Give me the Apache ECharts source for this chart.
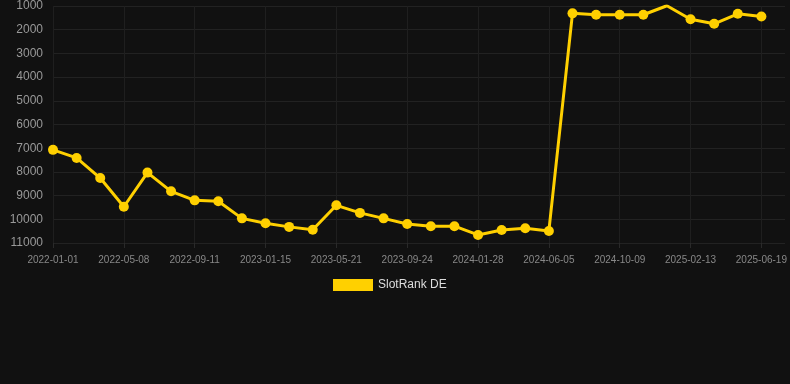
<!DOCTYPE html>
<html>
<head>
<meta charset="utf-8">
<script src="https://cdn.jsdelivr.net/npm/echarts@6/dist/echarts.min.js"></script>
<style>html,body{margin:0;padding:0;background:#111111;}#c{width:790px;height:384px;}</style>
</head>
<body>
<div id="c"></div>
<script>
var categories = ["2022-01-01","2022-02-12","2022-03-26","2022-05-08","2022-06-19","2022-07-31","2022-09-11","2022-10-23","2022-12-04","2023-01-15","2023-02-26","2023-04-09","2023-05-21","2023-07-02","2023-08-13","2023-09-24","2023-11-05","2023-12-17","2024-01-28","2024-03-10","2024-04-22","2024-06-05","2024-07-17","2024-08-28","2024-10-09","2024-11-20","2025-01-01","2025-02-13","2025-03-27","2025-05-08","2025-06-19",""];
var rankDE = [7070,7410,8260,9470,8030,8820,9200,9240,9960,10170,10320,10440,9410,9730,9960,10200,10290,10290,10660,10450,10380,10490,1310,1370,1370,1370,990,1560,1750,1330,1440];
var yTicks = {min:1000, max:11000, interval:1000};

var chart = echarts.init(document.getElementById('c'));
chart.setOption({
  backgroundColor:'#111111',
  animation:false,
  grid:{left:53, right:5, top:6, bottom:141, containLabel:false},
  legend:{
    data:['SlotRank DE'], top:274, left:328,
    itemWidth:40, itemHeight:12, icon:'rect',
    textStyle:{color:'#dddddd', fontSize:12, fontFamily:'Liberation Sans, Arial, sans-serif'}
  },
  xAxis:{
    type:'category', data:categories, boundaryGap:false,
    axisLine:{show:false},
    axisTick:{show:true, interval:2, length:5, lineStyle:{color:'#2a2a2a'}},
    axisLabel:{interval:2, color:'#888888', fontSize:10, margin:12, fontFamily:'Liberation Sans, Arial, sans-serif'},
    splitLine:{show:true, interval:2, lineStyle:{color:'#1f1f1f', width:1}}
  },
  yAxis:{
    type:'value', inverse:true, min:yTicks.min, max:yTicks.max, interval:yTicks.interval,
    axisLine:{show:false}, axisTick:{show:false},
    axisLabel:{color:'#999999', fontSize:12, margin:10, formatter:function(v){return String(v);}, fontFamily:'Liberation Sans, Arial, sans-serif'},
    splitLine:{lineStyle:{color:'#222222', width:1}}
  },
  series:[{
    name:'SlotRank DE', type:'line', data:rankDE,
    symbol:'circle', symbolSize:10,
    lineStyle:{color:'#FFD000', width:3},
    itemStyle:{color:'#FFD000'}
  }]
});
</script>
</body>
</html>
